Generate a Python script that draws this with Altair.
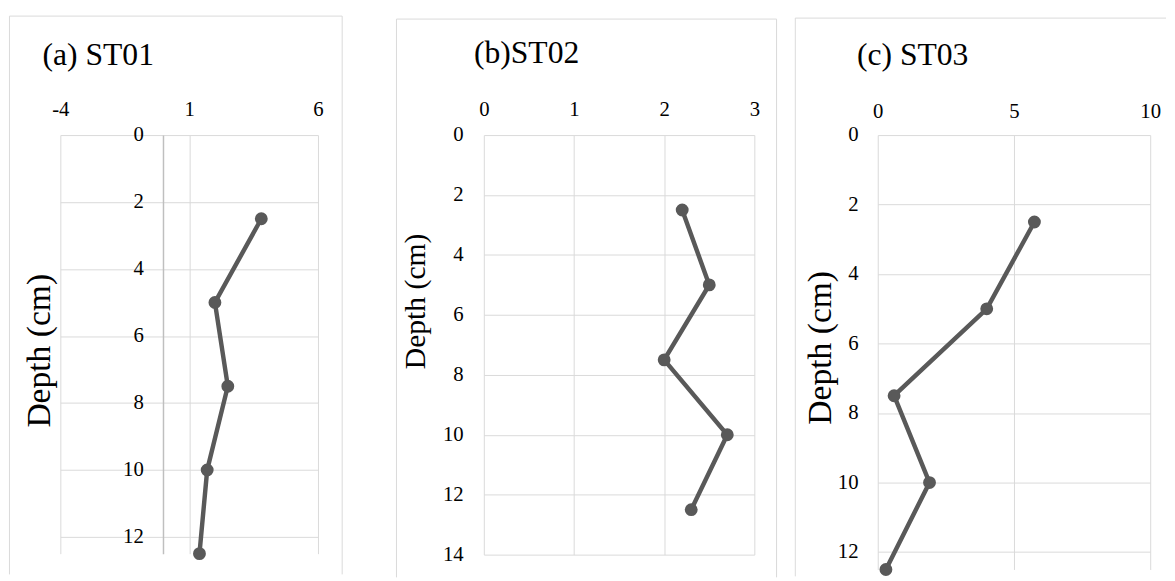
import altair as alt
import pandas as pd

# ---- data ----
depth = [2.5, 5, 7.5, 10, 12.5]
st01 = [3.8, 2.0, 2.5, 1.7, 1.4]
st02 = [2.2, 2.5, 2.0, 2.7, 2.3]
st03 = [5.75, 4.0, 0.6, 1.9, 0.3]

titles = ["(a) ST01", "(b)ST02", "(c) ST03"]
y_title = "Depth (cm)"

x_ticks_a = [-4, 1, 6]
x_ticks_b = [0, 1, 2, 3]
x_ticks_c = [0, 5, 10]
y_ticks_a = [0, 2, 4, 6, 8, 10, 12]
y_ticks_b = [0, 2, 4, 6, 8, 10, 12, 14]
y_ticks_c = [0, 2, 4, 6, 8, 10, 12]

x_dom_a = [-4, 6]
x_dom_b = [0, 3]
x_dom_c = [0, 10]
y_dom_a = [0, 12.5]
y_dom_b = [0, 14]
y_dom_c = [0, 12.5]

FONT = "Liberation Serif"
LINE = "#595959"
GRID = "#d9d9d9"
BOX = "#d9d9d9"
LABEL_SIZE = 21
LABEL_EXPR = "'' + datum.value"


def seg(x1, x2, y1, y2):
    return alt.Chart(pd.DataFrame({"k": [0]})).mark_rule(
        color=BOX, strokeWidth=1
    ).encode(x=alt.value(x1), x2=alt.value(x2), y=alt.value(y1), y2=alt.value(y2))


def panel(values, title, xdom, xt, ydom, yt, w, h, frame, box, tpos,
          xpad, ypad, yoffset, ytx, yty, ytsize, zero_line):
    df = pd.DataFrame({"depth": depth, "value": values})
    x = alt.X(
        "value:Q",
        scale=alt.Scale(domain=xdom, nice=False, zero=False),
        axis=alt.Axis(
            orient="top", values=xt, title=None, grid=True, domain=False,
            ticks=False, tickSize=0, labelPadding=xpad, labelFlush=False,
            labelOverlap=False, labelBaseline="alphabetic", labelExpr=LABEL_EXPR,
        ),
    )
    yaxis_kwargs = dict(
        values=yt, title=y_title, grid=True, ticks=False, tickSize=0,
        labelPadding=ypad, labelOverlap=False, labelFlush=False,
        labelExpr=LABEL_EXPR,
        titleX=ytx, titleY=yty, titleFontSize=ytsize,
        domain=zero_line,
    )
    if zero_line:
        yaxis_kwargs.update(offset=yoffset, domainColor="#bfbfbf", domainWidth=1.5)
    y = alt.Y(
        "depth:Q",
        scale=alt.Scale(domain=ydom, reverse=True, nice=False, zero=False),
        axis=alt.Axis(**yaxis_kwargs),
    )
    fx1, fx2, fy1, fy2 = frame
    frame_rect = alt.Chart(pd.DataFrame({"k": [0]})).mark_rect(opacity=0).encode(
        x=alt.value(fx1), x2=alt.value(fx2), y=alt.value(fy1), y2=alt.value(fy2)
    )
    bl, bt, br, bb = box
    layers = [frame_rect, seg(bl, bl, bt, bb)]
    if br is not None:
        layers += [seg(bl, br, bt, bt), seg(br, br, bt, bb)]
    else:
        layers.append(seg(bl, fx2, bt, bt))
    line = alt.Chart(df).mark_line(color=LINE, strokeWidth=4.5).encode(
        x=x, y=y, order="depth:Q"
    )
    pts = alt.Chart(df).mark_circle(color=LINE, size=170, opacity=1).encode(x=x, y=y)
    ttl = alt.Chart(pd.DataFrame({"t": [title]})).mark_text(
        align="left", baseline="alphabetic", font=FONT, fontSize=32, color="black"
    ).encode(text="t:N", x=alt.value(tpos[0]), y=alt.value(tpos[1]))
    layers += [line, pts, ttl]
    return alt.layer(*layers).properties(width=w, height=h)


pa = panel(st01, titles[0], x_dom_a, x_ticks_a, y_dom_a, y_ticks_a, 261, 424,
           frame=(-53, 339, -125, 445), box=(-51.5, -120.5, 285.5, 445),
           tpos=(-18, -71), xpad=20, ypad=20, yoffset=-104,
           ytx=-108, yty=218, ytsize=34, zero_line=True)
pb = panel(st02, titles[1], x_dom_b, x_ticks_b, y_dom_b, y_ticks_b, 274, 425,
           frame=(-90, 314, -122, 448), box=(-88.5, -117.5, 296.5, 448),
           tpos=(-10, -73), xpad=20, ypad=21, yoffset=0,
           ytx=-54, yty=168, ytsize=30, zero_line=False)
pc = panel(st03, titles[2], x_dom_c, x_ticks_c, y_dom_c, y_ticks_c, 276, 440,
           frame=(-85, 292, -123, 447), box=(-83.5, -118.5, None, 447),
           tpos=(-21, -71), xpad=18, ypad=20, yoffset=0,
           ytx=-41, yty=215, ytsize=34, zero_line=False)

chart = alt.hconcat(pa, pb, pc, spacing=0, bounds="full").properties(
    padding=0
).configure_view(stroke=None).configure_axis(
    labelFont=FONT, labelFontSize=LABEL_SIZE, labelColor="black",
    titleFont=FONT, titleColor="black", titleFontWeight="normal",
    gridColor=GRID, gridWidth=1,
)

chart.save("out.html", embed_options={"renderer": "svg", "actions": False})
